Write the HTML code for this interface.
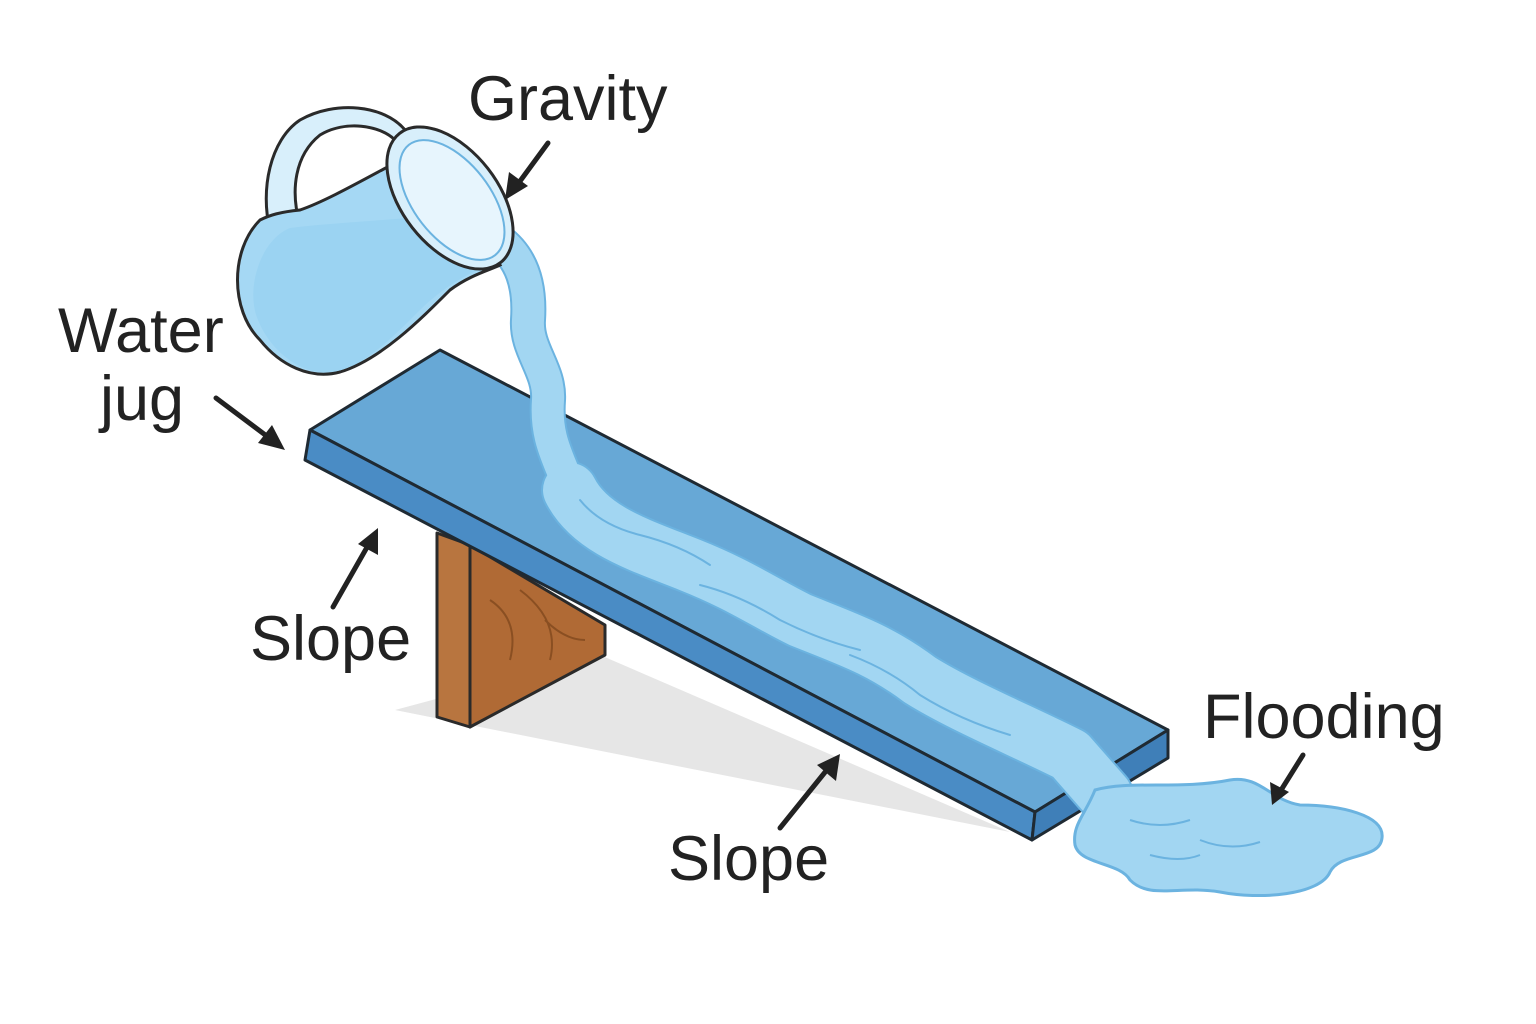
<!DOCTYPE html>
<html><head><meta charset="utf-8"><style>
html,body{margin:0;padding:0;background:#fff;}
svg{display:block;}
text{font-family:"Liberation Sans",sans-serif;fill:#222;}
</style></head><body>
<svg width="1536" height="1024" viewBox="0 0 1536 1024" xmlns="http://www.w3.org/2000/svg">
<rect width="1536" height="1024" fill="#fff"/>
<!-- shadow -->
<polygon points="395,710 600,655 1010,832 470,725" fill="#e6e6e6"/>
<!-- support block -->
<polygon points="437,533 470,545 470,727 437,717" fill="#b8753f" stroke="#2a2a2a" stroke-width="3" stroke-linejoin="round"/>
<polygon points="470,545 605,625 605,655 470,727" fill="#b06a35" stroke="#2a2a2a" stroke-width="3" stroke-linejoin="round"/>
<path d="M490,600 q30,20 20,60 M520,590 q40,30 30,70 M545,620 q20,20 40,20" stroke="#8a4f22" stroke-width="2" fill="none"/>
<!-- board -->
<polygon points="310,430 440,350 1168,730 1035,812" fill="#67a8d6" stroke="#1f2a33" stroke-width="3" stroke-linejoin="round"/>
<polygon points="310,430 1035,812 1032,840 305,460" fill="#4a8cc5" stroke="#1f2a33" stroke-width="3" stroke-linejoin="round"/>
<polygon points="1035,812 1168,730 1168,758 1032,840" fill="#3f7fb8" stroke="#1f2a33" stroke-width="3" stroke-linejoin="round"/>
<!-- water stream -->
<g fill="none" stroke-linecap="round" stroke-linejoin="round">
<path d="M490,235 C525,255 530,290 528,320 C526,350 550,370 548,400 C545,440 560,460 570,490" stroke="#6bb3e0" stroke-width="36"/>
<path d="M570,490 C590,530 640,545 690,565 C740,585 760,600 800,620 C850,640 880,650 920,680 C960,705 1020,730 1070,755 L1105,795" stroke="#6bb3e0" stroke-width="58"/>
<path d="M490,235 C525,255 530,290 528,320 C526,350 550,370 548,400 C545,440 560,460 570,490" stroke="#a2d6f2" stroke-width="32"/>
<path d="M570,490 C590,530 640,545 690,565 C740,585 760,600 800,620 C850,640 880,650 920,680 C960,705 1020,730 1070,755 L1105,795" stroke="#a2d6f2" stroke-width="54"/>
<path d="M580,500 q20,25 60,35 q40,10 70,30 M700,585 q40,10 80,35 q40,20 80,30 M850,655 q40,15 70,40 q40,25 90,40" stroke="#6bb3e0" stroke-width="2"/>
</g>
<!-- puddle -->
<path d="M1095,790 C1130,780 1180,790 1230,780 C1260,775 1270,800 1300,805 C1340,805 1385,815 1382,838 C1380,860 1340,852 1330,872 C1320,895 1260,900 1220,892 C1180,885 1150,900 1130,880 C1120,862 1080,865 1075,845 C1072,825 1085,815 1095,790 Z" fill="#a2d6f2" stroke="#6bb3e0" stroke-width="3"/>
<path d="M1130,820 q30,10 60,0 M1200,840 q30,12 60,2 M1150,855 q30,8 50,0" stroke="#6bb3e0" stroke-width="2" fill="none"/>
<!-- jug -->
<path d="M300,120 C270,140 260,190 270,230 L300,225 C290,190 295,155 320,135 C345,120 380,125 395,140 L405,130 C385,105 335,100 300,120 Z" fill="#d8effb" stroke="#2a2a2a" stroke-width="3"/>
<path d="M260,220 C230,250 230,310 260,340 C280,365 310,380 340,372 C380,360 420,320 450,290 C470,275 490,270 500,265 L420,150 C380,170 330,200 300,210 C280,212 270,215 260,220 Z" fill="#a5d8f4" stroke="#2a2a2a" stroke-width="3"/>
<path d="M290,228 C340,222 400,220 470,212 L500,262 C470,270 440,290 420,310 C390,340 360,370 330,372 C300,375 270,350 258,320 C245,290 260,240 290,228 Z" fill="#9bd3f2"/>
<ellipse cx="450" cy="198" rx="48" ry="82" transform="rotate(-38 450 198)" fill="#d8effb" stroke="#2a2a2a" stroke-width="3"/>
<ellipse cx="452" cy="200" rx="38" ry="70" transform="rotate(-38 452 200)" fill="#e7f5fd" stroke="#6bb3e0" stroke-width="2"/>
<!-- labels -->
<text x="468" y="120" font-size="63">Gravity</text>
<text x="58" y="352" font-size="63">Water</text>
<text x="100" y="420" font-size="63">jug</text>
<text x="250" y="660" font-size="63">Slope</text>
<text x="668" y="880" font-size="63">Slope</text>
<text x="1203" y="738" font-size="63">Flooding</text>
<!-- arrows -->
<g stroke="#222" stroke-width="5" stroke-linecap="round" fill="#222">
<line x1="548" y1="143" x2="515" y2="188"/>
<line x1="216" y1="398" x2="272" y2="440"/>
<line x1="333" y1="607" x2="370" y2="542"/>
<line x1="780" y1="828" x2="830" y2="766"/>
<line x1="1303" y1="755" x2="1278" y2="795"/>
</g>
<g fill="#222">
<polygon points="505,200 509,172 528,186"/>
<polygon points="285,450 258,443 272,425"/>
<polygon points="378,528 378,555 358,544"/>
<polygon points="840,754 836,781 817,765"/>
<polygon points="1272,805 1270,782 1289,792"/>
</g>
</svg>
</body></html>
